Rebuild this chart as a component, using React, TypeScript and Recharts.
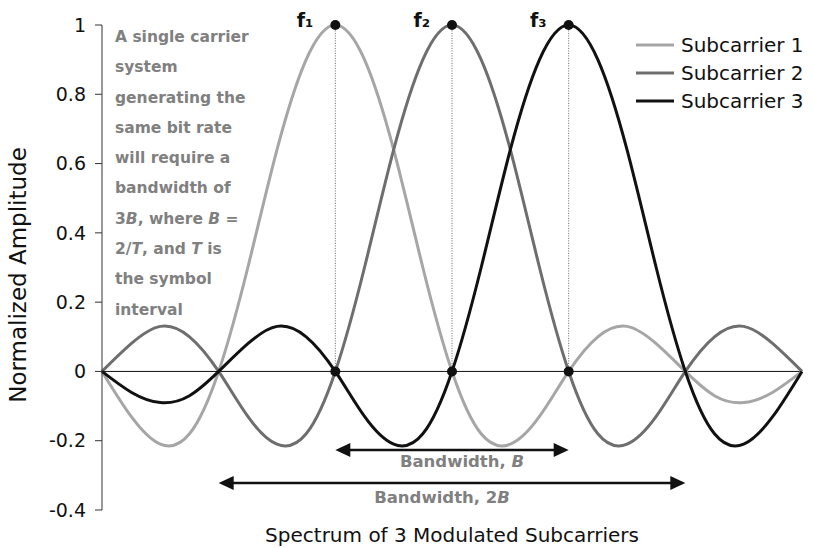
import React from 'react';
import { LineChart, Line, XAxis, YAxis, ReferenceLine, ReferenceDot, Legend } from 'recharts';

// frequency axis in subcarrier spacings (zeros fall on whole numbers)
const freq = [0, 0.25, 0.5, 0.75, 1, 1.25, 1.5, 1.75, 2, 2.25, 2.5, 2.75, 3, 3.25, 3.5, 3.75, 4, 4.25, 4.5, 4.75, 5, 5.25, 5.5, 5.75, 6];

const subcarrier1 = [0, -0.13, -0.21, -0.18, 0, 0.3, 0.64, 0.9, 1, 0.9, 0.64, 0.3, 0, -0.18, -0.21, -0.13, 0, 0.1, 0.13, 0.08, 0, -0.07, -0.09, -0.06, 0];
const subcarrier2 = [0, 0.08, 0.13, 0.1, 0, -0.13, -0.21, -0.18, 0, 0.3, 0.64, 0.9, 1, 0.9, 0.64, 0.3, 0, -0.18, -0.21, -0.13, 0, 0.1, 0.13, 0.08, 0];
const subcarrier3 = [0, -0.06, -0.09, -0.07, 0, 0.08, 0.13, 0.1, 0, -0.13, -0.21, -0.18, 0, 0.3, 0.64, 0.9, 1, 0.9, 0.64, 0.3, 0, -0.18, -0.21, -0.13, 0];

const seriesNames = ['Subcarrier 1', 'Subcarrier 2', 'Subcarrier 3'];
const seriesKeys = ['s1', 's2', 's3'];
const seriesColors = ['#a6a6a6', '#6e6e6e', '#111111'];

const yTicks = [-0.4, -0.2, 0, 0.2, 0.4, 0.6, 0.8, 1];
const yTickLabels = ['-0.4', '-0.2', '0', '0.2', '0.4', '0.6', '0.8', '1'];

const carrierPeaks = [2, 3, 4];
const carrierLabels = ['f₁', 'f₂', 'f₃'];

const bandB = [2, 4];
const bandB2 = [1, 5];
const bandLevels = [-0.227, -0.322];

const noteLines = [
  'A single carrier',
  'system',
  'generating the',
  'same bit rate',
  'will require a',
  'bandwidth of',
  '3|B|, where |B| =',
  '2/|T|, and |T| is',
  'the symbol',
  'interval',
];

const data = freq.map((u, i) => ({
  u,
  s1: subcarrier1[i],
  s2: subcarrier2[i],
  s3: subcarrier3[i],
}));

const FONT = '"DejaVu Sans", sans-serif';
const NOTE_GREY = '#808080';

const arrowShape = (label: React.ReactNode, dx: number, dy: number) => (props: any) => {
  const { x1, y1, x2 } = props;
  const h = 15;
  const w = 7;
  return (
    <g>
      <line x1={x1 + h - 2} y1={y1} x2={x2 - h + 2} y2={y1} stroke="#111" strokeWidth={2.5} />
      <polygon points={`${x1},${y1} ${x1 + h},${y1 - w} ${x1 + h},${y1 + w}`} fill="#111" />
      <polygon points={`${x2},${y1} ${x2 - h},${y1 - w} ${x2 - h},${y1 + w}`} fill="#111" />
      <text x={(x1 + x2) / 2 + dx} y={y1 + dy} textAnchor="middle" fontFamily={FONT} fontWeight="bold" fontSize={16.5} fill={NOTE_GREY}>
        {label}
      </text>
    </g>
  );
};

const renderLegend = () => (
  <div style={{ fontFamily: FONT, fontSize: 20, color: '#111' }}>
    {seriesNames.map((name, i) => (
      <div key={name} style={{ height: 28, display: 'flex', alignItems: 'center' }}>
        <svg width={45} height={6}>
          <line x1={0} y1={3} x2={38} y2={3} stroke={seriesColors[i]} strokeWidth={3} />
        </svg>
        <span>{name}</span>
      </div>
    ))}
  </div>
);

const renderNote = (line: string) =>
  line.split('|').map((part, i) =>
    i % 2 === 1 ? (
      <span key={i} style={{ fontStyle: 'italic' }}>{part}</span>
    ) : (
      <span key={i}>{part}</span>
    )
  );

export default function App() {
  return (
    <div style={{ position: 'absolute', left: 0, top: 0, width: 813, height: 548 }}>
      <LineChart width={813} height={548} data={data} margin={{ top: 25, right: 11, bottom: 0, left: 0 }}>
        <XAxis
          dataKey="u"
          type="number"
          domain={[0, 6]}
          tick={false}
          axisLine={false}
          tickLine={false}
          height={38}
          label={{
            value: 'Spectrum of 3 Modulated Subcarriers',
            position: 'insideBottom',
            offset: 6,
            fontFamily: FONT,
            fontSize: 20,
            fill: '#111',
          }}
        />
        <YAxis
          type="number"
          domain={[-0.4, 1]}
          ticks={yTicks}
          width={102}
          stroke="#333"
          tickSize={7}
          tickMargin={9}
          tick={{ fontFamily: FONT, fontSize: 19, fill: '#111' }}
          tickFormatter={(v: number) => yTickLabels[yTicks.indexOf(v)] ?? String(v)}
          label={{
            content: () => (
              <text
                x={18}
                y={275}
                transform="rotate(-90, 18, 275)"
                textAnchor="middle"
                dominantBaseline="central"
                fontFamily={FONT}
                fontSize={23}
                fill="#111"
              >
                Normalized Amplitude
              </text>
            ),
          }}
        />
        <ReferenceLine y={0} stroke="#111" strokeWidth={1} />
        {carrierPeaks.map((p) => (
          <ReferenceLine
            key={`v${p}`}
            segment={[{ x: p, y: 0 }, { x: p, y: 1 }]}
            stroke="#666"
            strokeWidth={1}
            strokeDasharray="1 1.5"
          />
        ))}
        <Legend
          layout="vertical"
          align="center"
          verticalAlign="middle"
          content={renderLegend}
          wrapperStyle={{ top: 31, left: 636, width: 'auto', height: 'auto' }}
        />
        {seriesKeys.map((k, i) => (
          <Line
            key={k}
            type="natural"
            dataKey={k}
            name={seriesNames[i]}
            stroke={seriesColors[i]}
            strokeWidth={3}
            dot={false}
            activeDot={false}
            isAnimationActive={false}
          />
        ))}
        {carrierPeaks.map((p, i) => (
          <ReferenceDot
            key={`pk${p}`}
            x={p}
            y={1}
            r={5}
            fill="#111"
            stroke="none"
            label={{
              content: ({ viewBox }: any) => (
                <text
                  x={viewBox.x - 17}
                  y={viewBox.y + 7}
                  textAnchor="end"
                  fontFamily={FONT}
                  fontWeight="bold"
                  fontSize={19}
                  fill="#111"
                >
                  {carrierLabels[i]}
                </text>
              ),
            }}
          />
        ))}
        {carrierPeaks.map((p) => (
          <ReferenceDot key={`z${p}`} x={p} y={0} r={5} fill="#111" stroke="none" />
        ))}
        <ReferenceLine
          segment={[{ x: bandB[0], y: bandLevels[0] }, { x: bandB[1], y: bandLevels[0] }]}
          shape={arrowShape(
            <>
              Bandwidth, <tspan fontStyle="italic">B</tspan>
            </>,
            10,
            17
          )}
        />
        <ReferenceLine
          segment={[{ x: bandB2[0], y: bandLevels[1] }, { x: bandB2[1], y: bandLevels[1] }]}
          shape={arrowShape(
            <>
              Bandwidth, 2<tspan fontStyle="italic">B</tspan>
            </>,
            -10,
            20
          )}
        />
      </LineChart>
      <div
        style={{
          position: 'absolute',
          left: 115,
          top: 22,
          fontFamily: FONT,
          fontWeight: 'bold',
          fontSize: 15.5,
          lineHeight: '30.3px',
          color: NOTE_GREY,
          whiteSpace: 'pre',
        }}
      >
        {noteLines.map((l, i) => (
          <div key={i}>{renderNote(l)}</div>
        ))}
      </div>
    </div>
  );
}
